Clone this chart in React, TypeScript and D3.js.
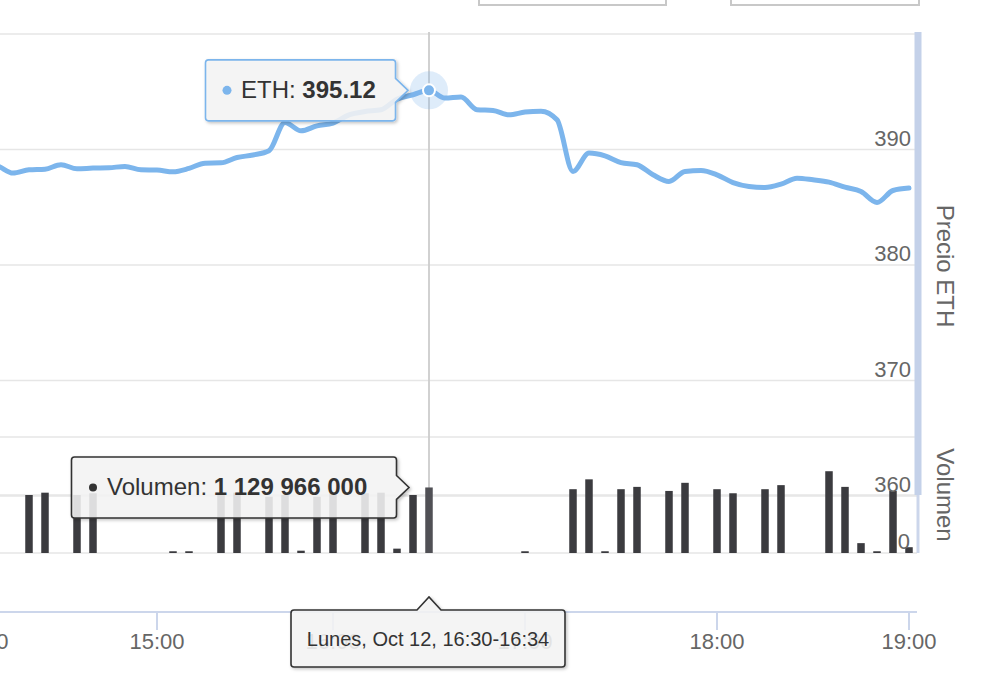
import * as d3 from 'd3';

// 5-minute groups (ordinal axis: empty slots are not drawn)
const times = [
  '14:00', '14:05', '14:10', '14:15', '14:20', '14:25', '14:30', '14:35', '14:45', '14:50', '14:55',
  '15:00', '15:05', '15:10', '15:15', '15:20', '15:25', '15:30', '15:40', '15:45', '15:50', '15:55',
  '16:00', '16:05', '16:10', '16:15', '16:20', '16:25', '16:30', '16:35', '16:40', '16:45', '16:50', '16:55',
  '17:00', '17:05', '17:10', '17:15', '17:20', '17:25', '17:30', '17:35', '17:40', '17:45', '17:50', '17:55',
  '18:00', '18:05', '18:10', '18:15', '18:20', '18:25', '18:30', '18:35', '18:40', '18:45', '18:50', '18:55',
  '19:00',
];

const prices = [
  388.76, 388.59, 387.96, 388.24, 388.3, 388.68, 388.33, 388.39, 388.42, 388.53, 388.24,
  388.22, 388.07, 388.36, 388.82, 388.85, 389.31, 389.52, 389.89, 392.34, 391.62, 392.05,
  392.29, 393.0, 393.29, 393.44, 394.36, 394.74, 395.12, 394.45, 394.54, 393.44, 393.38, 393.0,
  393.24, 393.32, 392.57, 388.1, 389.69, 389.45, 388.87, 388.68, 387.81, 387.23, 388.1, 388.18,
  387.81, 387.14, 386.8, 386.71, 387.0, 387.52, 387.38, 387.18, 386.74, 386.36, 385.41, 386.45,
  386.66,
];

const volumes = [
  0, 0, 0, 1.0e9, 1.04e9, 0, 1.0e9, 1.03e9, 0, 0, 0,
  0, 0.03e9, 0.03e9, 0, 1.03e9, 1.04e9, 0, 0.97e9, 1.0e9, 0.04e9, 0.97e9,
  1.03e9, 0, 1.03e9, 1.04e9, 0.075e9, 1.0e9, 1129966000, 0, 0, 0, 0, 0,
  0.03e9, 0, 0, 1.1e9, 1.27e9, 0.03e9, 1.1e9, 1.14e9, 0, 1.07e9, 1.21e9, 0,
  1.1e9, 1.03e9, 0, 1.1e9, 1.17e9, 0, 0, 1.41e9, 1.14e9, 0.17e9, 0.03e9, 1.07e9,
  0.1e9,
];

const priceTicks = [360, 370, 380, 390, 400];
const priceLabels = [360, 370, 380, 390];
const volumeTicks = [0, 1e9, 2e9];
const volumeLabels = [0];
const hourTicks = ['14:00', '15:00', '16:00', '17:00', '18:00', '19:00'];

const hoverIndex = 28;
const seriesName = 'ETH';
const volumeName = 'Volumen';
const headerText = 'Lunes, Oct 12, 16:30-16:34';
const priceTitle = 'Precio ETH';

const font = '"Liberation Sans", Arial, Helvetica, sans-serif';
const lineColor = '#7cb5ec';
const barColor = '#3b3b3f';
const gridColor = '#e6e6e6';
const axisColor = '#ccd6eb';

const plotRight = 917;
const priceTop = 34;
const priceBottom = 496;
const volTop = 437;
const volBottom = 553;
const xAxisY = 612;

const x = d3.scaleLinear().domain([0, times.length - 1]).range([-19, 909]);
const yP = d3.scaleLinear().domain([360, 400]).range([priceBottom, priceTop]);
const yV = d3.scaleLinear().domain([0, 2e9]).range([volBottom, volTop]);

const fmtVol = (v: number) => d3.format(',')(v).replace(/,/g, '\u00a0');

const rightCallout = (tipX: number, tipY: number, w: number, h: number) => {
  const r = 3;
  const R = tipX - 12.5;
  const L = R - w;
  const T = tipY - h / 2;
  const B = tipY + h / 2;
  return `M${L + r},${T} H${R - r} Q${R},${T} ${R},${T + r} V${tipY - 12} L${tipX},${tipY} L${R},${tipY + 12} V${B - r} Q${R},${B} ${R - r},${B} H${L + r} Q${L},${B} ${L},${B - r} V${T + r} Q${L},${T} ${L + r},${T} Z`;
};

const topCallout = (tipX: number, tipY: number, w: number, h: number) => {
  const r = 3;
  const L = tipX - 1 - w / 2;
  const R = L + w;
  const T = tipY + 13;
  const B = T + h;
  return `M${L + r},${T} H${tipX - 12} L${tipX},${tipY} L${tipX + 12},${T} H${R - r} Q${R},${T} ${R},${T + r} V${B - r} Q${R},${B} ${R - r},${B} H${L + r} Q${L},${B} ${L},${B - r} V${T + r} Q${L},${T} ${L + r},${T} Z`;
};

export default function App() {
  const line = d3
    .line<number>()
    .x((_, i) => x(i))
    .y((d) => yP(d))
    .curve(d3.curveMonotoneX)(prices);

  const hx = x(hoverIndex);
  const hy = yP(prices[hoverIndex]);
  const vy = yV(volumes[hoverIndex]);
  const hourX = (t: string) => x(times.indexOf(t));

  const ethTipX = hx - 21;
  const volTipX = hx - 20;
  const headTipY = xAxisY - 15;

  return (
    <svg
      width={996}
      height={674}
      style={{ position: 'absolute', left: 0, top: 0, fontFamily: font, background: '#fff' }}
    >
      <defs>
        <clipPath id="plot">
          <rect x={-60} y={priceTop - 5} width={plotRight + 60} height={volBottom - priceTop + 5} />
        </clipPath>
        <filter id="shadow" x="-10%" y="-20%" width="120%" height="150%">
          <feDropShadow dx={1.5} dy={1.5} stdDeviation={1.5} floodColor="#000" floodOpacity={0.25} />
        </filter>
      </defs>

      {/* range selector inputs (cut off at the top) */}
      <rect x={479} y={-30} width={187} height={35} fill="#fff" stroke="#c8c8c8" strokeWidth={2} />
      <rect x={731} y={-30} width={188} height={35} fill="#fff" stroke="#c8c8c8" strokeWidth={2} />

      {/* grid */}
      <g>
        {priceTicks.map((t) => (
          <line key={'p' + t} x1={-20} x2={plotRight} y1={yP(t)} y2={yP(t)} stroke={gridColor} strokeWidth={1.6} />
        ))}
        {volumeTicks.map((t) => (
          <line key={'v' + t} x1={-20} x2={plotRight} y1={yV(t)} y2={yV(t)} stroke={gridColor} strokeWidth={1.6} />
        ))}
      </g>

      {/* right axis lines */}
      <line x1={918} x2={918} y1={volTop} y2={volBottom} stroke={axisColor} strokeWidth={3} />
      <line x1={918} x2={918} y1={priceTop - 2} y2={priceBottom - 1} stroke="#c4d1e9" strokeWidth={7} />

      {/* crosshair */}
      <line x1={hx} x2={hx} y1={priceTop - 2} y2={volBottom} stroke="#cccccc" strokeWidth={1.8} />

      <g clipPath="url(#plot)">
        {volumes.map((v, i) =>
          v > 0 ? (
            <rect
              key={i}
              x={x(i) - 3.75}
              y={yV(v)}
              width={7.5}
              height={volBottom - yV(v)}
              fill={i === hoverIndex ? '#505055' : barColor}
            />
          ) : null
        )}
        <path d={line ?? ''} fill="none" stroke={lineColor} strokeWidth={5} strokeLinejoin="round" strokeLinecap="round" />
        <circle cx={hx} cy={hy} r={19} fill={lineColor} fillOpacity={0.25} />
        <circle cx={hx} cy={hy} r={6} fill={lineColor} stroke="#fff" strokeWidth={2} />
      </g>

      {/* y labels */}
      <g fill="#666" fontSize={22} textAnchor="end">
        {priceLabels.map((t) => (
          <text key={t} x={911} y={yP(t) - 4}>
            {t}
          </text>
        ))}
        {volumeLabels.map((t) => (
          <text key={'vl' + t} x={910} y={yV(t) - 4}>
            {t}
          </text>
        ))}
      </g>

      {/* axis titles */}
      <g fill="#666" fontSize={24} textAnchor="middle">
        <text transform={`translate(937,${(priceTop + priceBottom) / 2 + 1}) rotate(90)`}>{priceTitle}</text>
        <text transform={`translate(937,${(volTop + volBottom) / 2}) rotate(90)`}>{volumeName}</text>
      </g>

      {/* x axis */}
      <line x1={-20} x2={plotRight} y1={xAxisY} y2={xAxisY} stroke={axisColor} strokeWidth={2} />
      <g fill="#666" fontSize={22} textAnchor="middle">
        {hourTicks.map((t) => (
          <g key={t}>
            <line x1={hourX(t)} x2={hourX(t)} y1={xAxisY} y2={xAxisY + 18} stroke={axisColor} strokeWidth={2} />
            <text x={hourX(t)} y={649}>
              {t}
            </text>
          </g>
        ))}
      </g>

      {/* tooltips */}
      <g filter="url(#shadow)">
        <path d={rightCallout(ethTipX, hy, 190, 61)} fill="#f7f7f7" fillOpacity={0.85} stroke={lineColor} strokeWidth={1.6} />
      </g>
      <circle cx={ethTipX - 12.5 - 190 + 21.5} cy={hy} r={4.5} fill={lineColor} />
      <text x={ethTipX - 12.5 - 190 + 35.5} y={hy + 8} fontSize={24} fill="#333">
        {seriesName}: <tspan fontWeight="bold">{prices[hoverIndex].toFixed(2)}</tspan>
      </text>

      <g filter="url(#shadow)">
        <path d={rightCallout(volTipX, vy, 325, 61)} fill="#f7f7f7" fillOpacity={0.85} stroke="#333" strokeWidth={1.6} />
      </g>
      <circle cx={volTipX - 12.5 - 325 + 21.5} cy={vy} r={4} fill="#333" />
      <text x={volTipX - 12.5 - 325 + 35.5} y={vy + 8} fontSize={24} fill="#333">
        {volumeName}: <tspan fontWeight="bold">{fmtVol(volumes[hoverIndex])}</tspan>
      </text>

      <g filter="url(#shadow)">
        <path d={topCallout(hx, headTipY, 274, 57)} fill="#f7f7f7" fillOpacity={0.85} stroke="#333" strokeWidth={1.6} />
      </g>
      <text x={hx - 1} y={headTipY + 13 + 36} fontSize={20} fill="#333" textAnchor="middle">
        {headerText}
      </text>
    </svg>
  );
}
